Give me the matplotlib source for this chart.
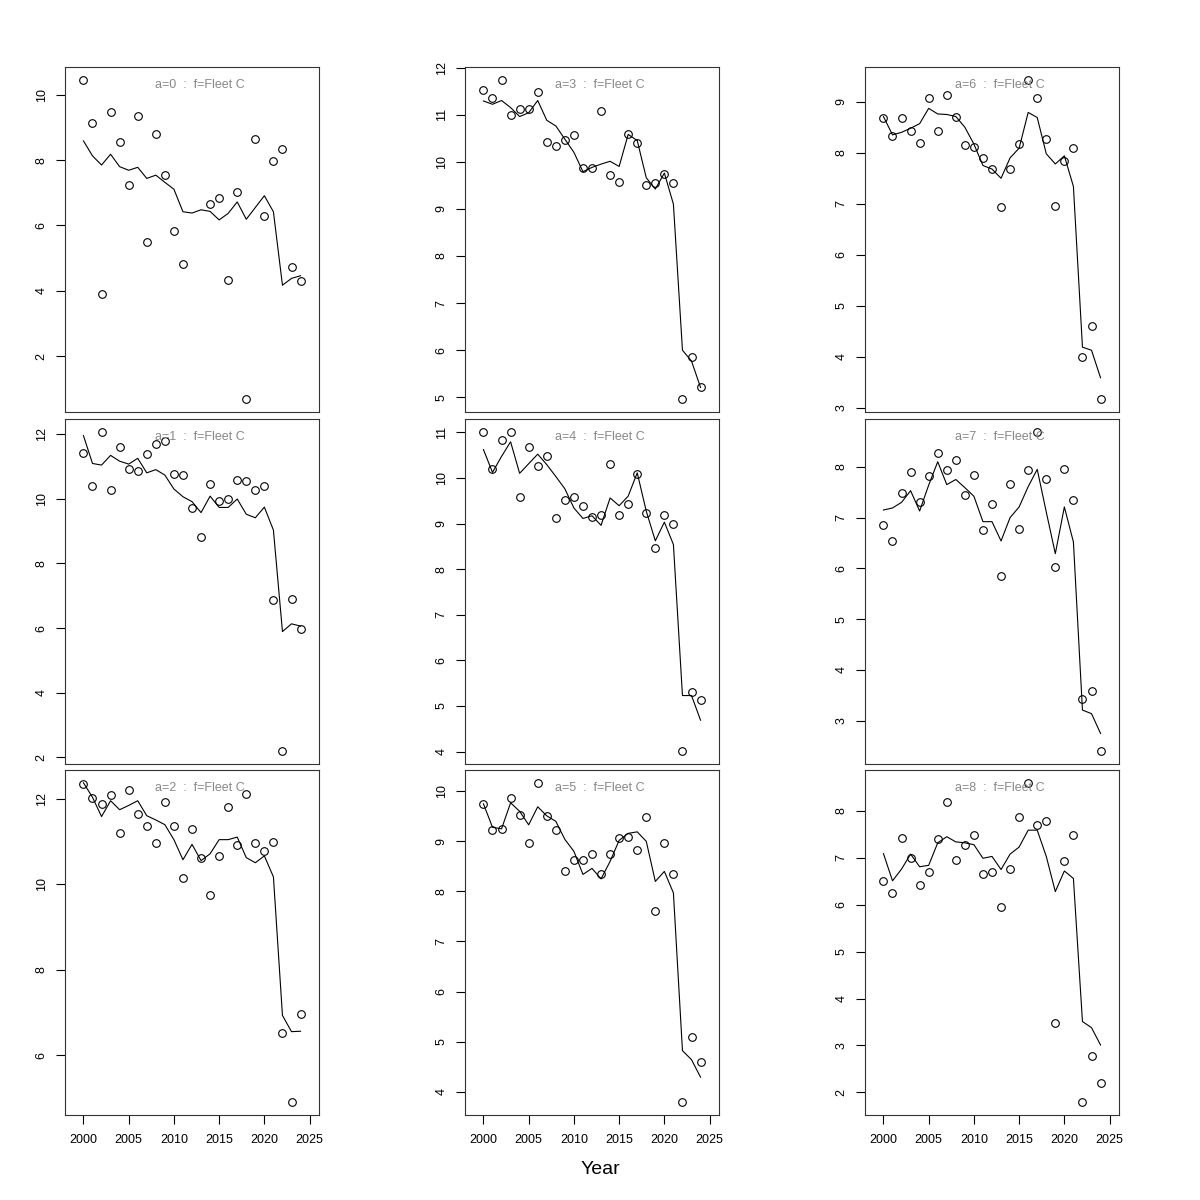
import matplotlib.pyplot as plt
import numpy as np

years = np.arange(2000, 2025)

# observed (circles) and fitted (line) values per age, fleet C
obs_a0 = [10.46, 9.13, 3.89, 9.48, 8.57, 7.23, 9.34, 5.50, 8.81, 7.54, 5.84, 4.81, np.nan, np.nan,
          6.65, 6.84, 4.34, 7.01, 0.68, 8.66, 6.30, 7.98, 8.34, 4.73, 4.30]
fit_a0 = [8.59, 8.13, 7.85, 8.18, 7.80, 7.69, 7.78, 7.44, 7.54, 7.32, 7.11, 6.42, 6.38, 6.48,
          6.43, 6.17, 6.37, 6.72, 6.19, 6.55, 6.91, 6.42, 4.17, 4.38, 4.46]

obs_a1 = [11.40, 10.38, 12.07, 10.28, 11.60, 10.93, 10.85, 11.38, 11.69, 11.80, 10.76, 10.72, 9.71, 8.82,
          10.44, 9.92, 10.00, 10.59, 10.56, 10.26, 10.39, 6.86, 2.19, 6.90, 5.96]
fit_a1 = [11.95, 11.09, 11.04, 11.34, 11.16, 11.07, 11.25, 10.80, 10.90, 10.73, 10.30, 10.06, 9.91, 9.57,
          10.08, 9.73, 9.73, 9.99, 9.52, 9.41, 9.74, 9.03, 5.89, 6.13, 6.06]

obs_a2 = [12.34, 12.02, 11.87, 12.09, 11.20, 12.21, 11.65, 11.36, 10.97, 11.92, 11.35, 10.15, 11.28, 10.62,
          9.75, 10.65, 11.81, 10.92, 12.11, 10.97, 10.78, 10.98, 6.51, 4.90, 6.96]
fit_a2 = [12.37, 12.03, 11.58, 11.95, 11.74, 11.84, 11.95, 11.60, 11.50, 11.39, 11.04, 10.57, 10.93, 10.55,
          10.71, 11.04, 11.04, 11.10, 10.62, 10.50, 10.66, 10.17, 6.93, 6.55, 6.56]

obs_a3 = [11.53, 11.36, 11.74, 11.00, 11.11, 11.12, 11.47, 10.42, 10.34, 10.47, 10.56, 9.86, 9.86, 11.07,
          9.71, 9.56, 10.58, 10.39, 9.50, 9.54, 9.74, 9.54, 4.96, 5.86, 5.21]
fit_a3 = [11.29, 11.22, 11.30, 11.15, 10.96, 11.04, 11.30, 10.88, 10.76, 10.48, 10.20, 9.79, 9.88, 9.95,
          10.01, 9.90, 10.58, 10.45, 9.66, 9.42, 9.76, 9.10, 6.00, 5.77, 5.21]

obs_a4 = [11.01, 10.20, 10.82, 11.00, 9.57, 10.68, 10.27, 10.48, 9.11, 9.52, 9.57, 9.38, 9.15, 9.19,
          10.31, 9.19, 9.42, 10.09, 9.24, 8.47, 9.18, 8.99, 4.01, 5.30, 5.13]
fit_a4 = [10.62, 10.12, 10.47, 10.79, 10.10, 10.31, 10.52, 10.29, 10.03, 9.76, 9.34, 9.11, 9.17, 8.96,
          9.56, 9.39, 9.60, 10.11, 9.27, 8.62, 9.03, 8.54, 5.23, 5.23, 4.69]

obs_a5 = [9.75, 9.22, 9.25, 9.86, 9.53, 8.96, 10.17, 9.51, 9.23, 8.40, 8.63, 8.62, 8.75, 8.34,
          8.75, 9.06, 9.08, 8.83, 9.49, 7.61, 8.97, 8.34, 3.79, 5.09, 4.60]
fit_a5 = [9.75, 9.28, 9.25, 9.77, 9.60, 9.33, 9.69, 9.51, 9.40, 9.04, 8.80, 8.34, 8.46, 8.25,
          8.60, 9.02, 9.16, 9.19, 9.00, 8.20, 8.40, 7.97, 4.82, 4.64, 4.29]

obs_a6 = [8.69, 8.32, 8.69, 8.43, 8.19, 9.08, 8.42, 9.14, 8.71, 8.15, 8.11, 7.90, 7.68, 6.93,
          7.69, 8.18, 9.43, 9.08, 8.26, 6.95, 7.83, 8.09, 3.99, 4.60, 3.17]
fit_a6 = [8.71, 8.35, 8.40, 8.48, 8.57, 8.87, 8.76, 8.75, 8.71, 8.50, 8.17, 7.75, 7.68, 7.50,
          7.90, 8.09, 8.79, 8.69, 7.98, 7.78, 7.94, 7.34, 4.19, 4.13, 3.59]

obs_a7 = [6.85, 6.54, 7.49, 7.90, 7.30, 7.82, 8.28, 7.93, 8.14, 7.44, 7.84, 6.76, 7.27, 5.85,
          7.67, 6.77, 7.93, 8.69, 7.76, 6.02, 7.95, 7.34, 3.43, 3.58, 2.40]
fit_a7 = [7.15, 7.19, 7.30, 7.53, 7.13, 7.64, 8.10, 7.65, 7.75, 7.59, 7.42, 6.92, 6.92, 6.54,
          7.00, 7.21, 7.61, 7.95, 7.11, 6.29, 7.21, 6.52, 3.21, 3.14, 2.75]

obs_a8 = [6.51, 6.26, 7.43, 6.99, 6.42, 6.70, 7.40, 8.18, 6.96, 7.28, 7.49, 6.66, 6.69, 5.95,
          6.77, 7.88, 8.60, 7.71, 7.78, 3.47, 6.93, 7.49, 1.79, 2.77, 2.19]
fit_a8 = [7.09, 6.51, 6.76, 7.08, 6.81, 6.84, 7.32, 7.45, 7.34, 7.32, 7.28, 6.99, 7.03, 6.75,
          7.08, 7.23, 7.59, 7.59, 7.03, 6.28, 6.72, 6.56, 3.51, 3.38, 3.01]

obs = [obs_a0, obs_a1, obs_a2, obs_a3, obs_a4, obs_a5, obs_a6, obs_a7, obs_a8]
fit = [fit_a0, fit_a1, fit_a2, fit_a3, fit_a4, fit_a5, fit_a6, fit_a7, fit_a8]
tick_step = [2, 2, 2, 1, 1, 1, 1, 1, 1]
fleet = 'Fleet C'

plt.rcParams['font.family'] = ['Liberation Sans', 'DejaVu Sans']
fig = plt.figure(figsize=(12, 12), dpi=100)

# panel boxes in pixels (R-like layout, 3 columns of ages)
lefts = [65, 465, 865]
tops = [67, 419, 770]
w, h = 254, 345

x0, x1 = years[0] - 1, years[-1] + 1
xpad = 0.04 * (x1 - x0)

for a in range(9):
    col = a // 3
    row = a % 3
    ax = fig.add_axes([lefts[col] / 1200, 1 - (tops[row] + h) / 1200, w / 1200, h / 1200])
    o = np.array(obs[a], dtype=float)
    f = np.array(fit[a], dtype=float)
    ax.plot(years, o, 'o', mfc='none', mec='black', ms=5.5, mew=0.8)
    ax.plot(years, f, color='black', lw=0.8)

    lo = min(np.nanmin(o), np.nanmin(f))
    hi = max(np.nanmax(o), np.nanmax(f))
    pad = 0.04 * (hi - lo)
    ax.set_ylim(lo - pad, hi + pad)
    ax.set_xlim(x0 - xpad, x1 + xpad)
    ax.yaxis.set_major_locator(plt.MultipleLocator(tick_step[a]))
    ax.tick_params(axis='y', length=6.5, width=0.8, labelsize=9, pad=6)
    plt.setp(ax.get_yticklabels(), rotation=90, va='center')

    if row == 2:
        ax.set_xticks(np.arange(2000, 2026, 5))
        ax.tick_params(axis='x', length=6.5, width=0.8, labelsize=9, pad=7)
    else:
        ax.set_xticks([])

    for s in ax.spines.values():
        s.set_linewidth(0.8)
        s.set_color('#333333')

    ax.text(0.53, 0.948, f'a={a}  :  f={fleet}', transform=ax.transAxes,
            ha='center', va='center', fontsize=9, color='#888888')

fig.text(0.5, 1 - 1170 / 1200, 'Year', ha='center', va='center', fontsize=14)

fig.savefig('out.png', dpi=100)
